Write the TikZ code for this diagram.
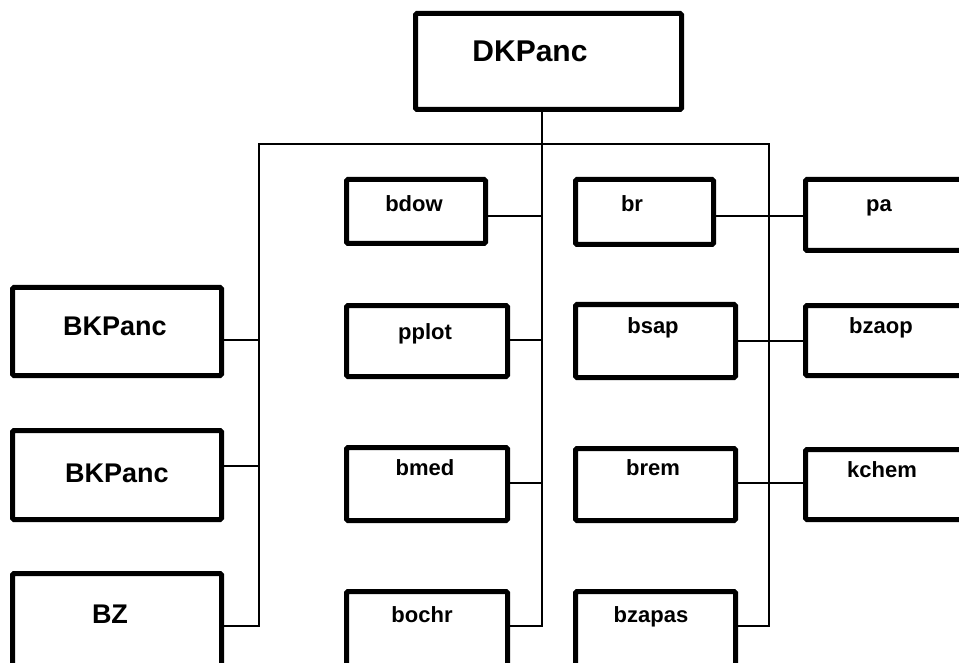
\documentclass[tikz,border=0pt]{standalone}
\usepackage{fontspec}
\setmainfont{Liberation Sans}
\usetikzlibrary{fit}
\tikzset{
  box/.style={draw, line width=5pt, rounded corners=1.5pt, inner sep=0pt, outer sep=0pt},
  wire/.style={draw, line width=1.3pt},
  lbl/.style={anchor=base, inner sep=0pt, font=\bfseries\fontsize{22}{24}\selectfont},
  biglbl/.style={anchor=base, inner sep=0pt, font=\bfseries\fontsize{27}{30}\selectfont},
  toplbl/.style={anchor=base, inner sep=0pt, font=\bfseries\fontsize{30}{33}\selectfont}
}
\begin{document}
\begin{tikzpicture}[x=1pt,y=-1pt]
\useasboundingbox (0,0) rectangle (959,663);
\clip (0,0) rectangle (959,663);
% boxes
\node[box, fit={(415.5,13.5) (681.5,109.5)}] (dk) {};
\node[box, fit={(12.5,287.5) (221.5,375.5)}] (bk1) {};
\node[box, fit={(12.5,430.5) (221.5,519.5)}] (bk2) {};
\node[box, fit={(12.5,573.5) (221.5,700)}] (bz) {};
\node[box, fit={(346.5,179.5) (485.5,243.5)}] (bdow) {};
\node[box, fit={(346.5,305.5) (507.5,376.5)}] (pplot) {};
\node[box, fit={(346.5,447.5) (507.5,520.5)}] (bmed) {};
\node[box, fit={(346.5,591.5) (507.5,700)}] (bochr) {};
\node[box, fit={(575.5,179.5) (713.5,244.5)}] (br) {};
\node[box, fit={(575.5,304.5) (735.5,377.5)}] (bsap) {};
\node[box, fit={(575.5,448.5) (735.5,520.5)}] (brem) {};
\node[box, fit={(575.5,591.5) (735.5,700)}] (bzapas) {};
\node[box, fit={(805.5,179.5) (990,250.5)}] (pa) {};
\node[box, fit={(805.5,305.5) (990,375.5)}] (bzaop) {};
\node[box, fit={(805.5,449.5) (990,519.5)}] (kchem) {};
% labels
\node[toplbl] (tdk) at (530,62) {DKPanc};
\node[biglbl] (tbk1) at (115,335) {BKPanc};
\node[biglbl] (tbk2) at (117,482) {BKPanc};
\node[biglbl] (tbz) at (110,623) {BZ};
\node[lbl] (tbdow) at (414,212) {bdow};
\node[lbl] (tpplot) at (425,339) {pplot};
\node[lbl] (tbmed) at (425,475) {bmed};
\node[lbl] (tbochr) at (422,622) {bochr};
\node[lbl] (tbr) at (632,212) {br};
\node[lbl] (tbsap) at (653,333) {bsap};
\node[lbl] (tbrem) at (653,475) {brem};
\node[lbl] (tbzapas) at (651,622) {bzapas};
\node[lbl] (tpa) at (879,212) {pa};
\node[lbl] (tbzaop) at (881,333) {bzaop};
\node[lbl] (tkchem) at (882,477) {kchem};
% junctions
\coordinate (T) at (542,144);
\coordinate (L1) at (259,340);
\coordinate (L2) at (259,466);
\coordinate (L3) at (259,626);
\coordinate (M1) at (542,216);
\coordinate (M2) at (542,340);
\coordinate (M3) at (542,483);
\coordinate (M4) at (542,626);
\coordinate (R0) at (769,216);
\coordinate (R1) at (769,341);
\coordinate (R2) at (769,483);
\coordinate (R3) at (769,626);
% connectors
\draw[wire] (M4 |- dk.south) -- (M4) -- (bochr.east |- M4);
\draw[wire] (bz.east |- L3) -- (L3) -- (L3 |- T) -- (R3 |- T) -- (R3) -- (bzapas.east |- R3);
\draw[wire] (bk1.east |- L1) -- (L1);
\draw[wire] (bk2.east |- L2) -- (L2);
\draw[wire] (bdow.east |- M1) -- (M1);
\draw[wire] (pplot.east |- M2) -- (M2);
\draw[wire] (bmed.east |- M3) -- (M3);
\draw[wire] (br.east |- R0) -- (pa.west |- R0);
\draw[wire] (bsap.east |- R1) -- (bzaop.west |- R1);
\draw[wire] (brem.east |- R2) -- (kchem.west |- R2);
\end{tikzpicture}
\end{document}
